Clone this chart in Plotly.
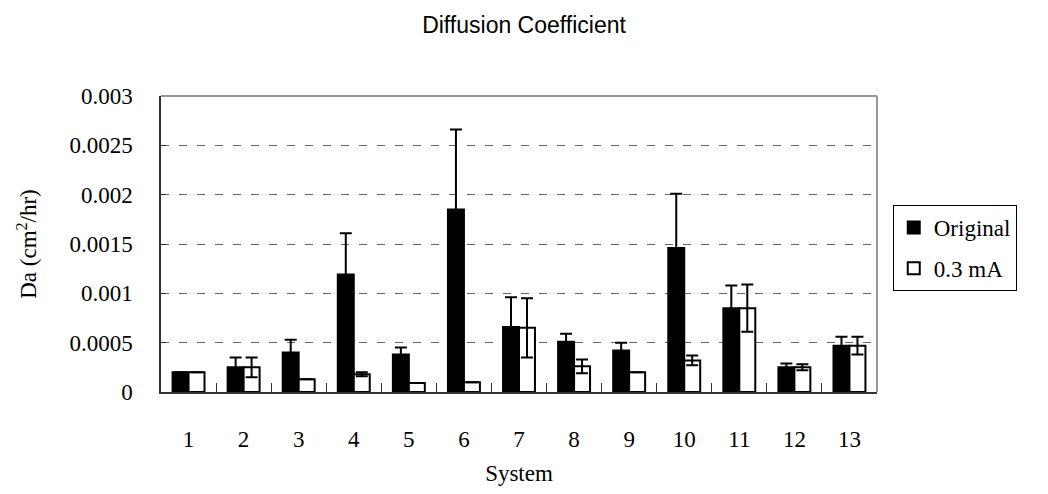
import plotly.graph_objects as go

systems = [str(i) for i in range(1, 14)]
original = [0.00020, 0.00025, 0.00040, 0.00119, 0.00038, 0.00185, 0.00066, 0.00051, 0.00042, 0.00146, 0.00085, 0.00025, 0.00047]
original_err = [0.0, 0.00010, 0.00013, 0.00042, 0.00007, 0.00081, 0.00030, 0.00008, 0.00008, 0.00055, 0.00023, 0.00004, 0.00009]
ma03 = [0.00020, 0.00025, 0.00013, 0.00018, 0.00009, 0.00010, 0.00065, 0.00026, 0.00020, 0.00032, 0.00085, 0.00025, 0.00047]
ma03_err = [0.0, 0.00010, 0.0, 0.00002, 0.0, 0.0, 0.00030, 0.00007, 0.0, 0.00005, 0.00024, 0.00003, 0.00009]

y_tickvals = [0, 0.0005, 0.001, 0.0015, 0.002, 0.0025, 0.003]
y_ticktext = ["0", "0.0005", "0.001", "0.0015", "0.002", "0.0025", "0.003"]

serif = "Liberation Serif"
fsize = 23

fig = go.Figure()
fig.add_trace(go.Bar(
    x=systems, y=original, name="Original",
    marker=dict(color="black", line=dict(color="black", width=2)),
    error_y=dict(type="data", array=original_err, visible=True, color="black", thickness=2, width=6),
    legendgroup="a",
))
fig.add_trace(go.Bar(
    x=systems, y=ma03, name="0.3 mA",
    marker=dict(color="white", line=dict(color="black", width=2)),
    error_y=dict(type="data", array=ma03_err, visible=True, color="black", thickness=2, width=6),
    legendgroup="b",
))

fig.update_layout(
    width=1048, height=494,
    margin=dict(l=161, r=171, t=96, b=97),
    paper_bgcolor="white", plot_bgcolor="white",
    barmode="group", bargap=0.42, bargroupgap=0,
    title=dict(text="Diffusion Coefficient", x=0.5, xanchor="center", y=1 - 25 / 494, yanchor="middle",
               font=dict(family="Liberation Sans, Arial", size=23, color="black")),
    font=dict(family=serif, size=fsize, color="black"),
    showlegend=True,
    legend=dict(x=1.022, y=0.632, xanchor="left", yanchor="top",
                bordercolor="black", borderwidth=1, bgcolor="white",
                font=dict(family=serif, size=fsize, color="black"),
                tracegroupgap=8, itemwidth=30),
    xaxis=dict(type="category", categoryorder="array", categoryarray=systems,
               tickson="boundaries", ticks="inside", ticklen=9, tickwidth=1, tickcolor="#333",
               showline=True, linecolor="#333", linewidth=1.5, showgrid=False,
               tickfont=dict(family=serif, size=fsize, color="black"), ticklabelstandoff=26,
               title=dict(text="System", font=dict(family=serif, size=fsize, color="black"), standoff=14)),
    yaxis=dict(range=[0, 0.003], tickvals=y_tickvals, ticktext=y_ticktext,
               ticks="inside", ticklen=5, tickcolor="#333", tickwidth=1,
               showline=True, linecolor="#333", linewidth=1.5, zeroline=False,
               showgrid=True, gridcolor="#666", gridwidth=1, griddash="8px,10px",
               tickfont=dict(family=serif, size=fsize, color="black"), ticklabelstandoff=22,
               title=dict(text="Da (cm<sup>2</sup>/hr)", font=dict(family=serif, size=fsize, color="black"), standoff=26)),
)

fig.add_shape(type="line", xref="paper", yref="paper", x0=0, x1=1, y0=1, y1=1,
              line=dict(color="#999", width=2))
fig.add_shape(type="line", xref="paper", yref="paper", x0=1, x1=1, y0=0, y1=1,
              line=dict(color="#999", width=2))

fig.write_html("out.html")
